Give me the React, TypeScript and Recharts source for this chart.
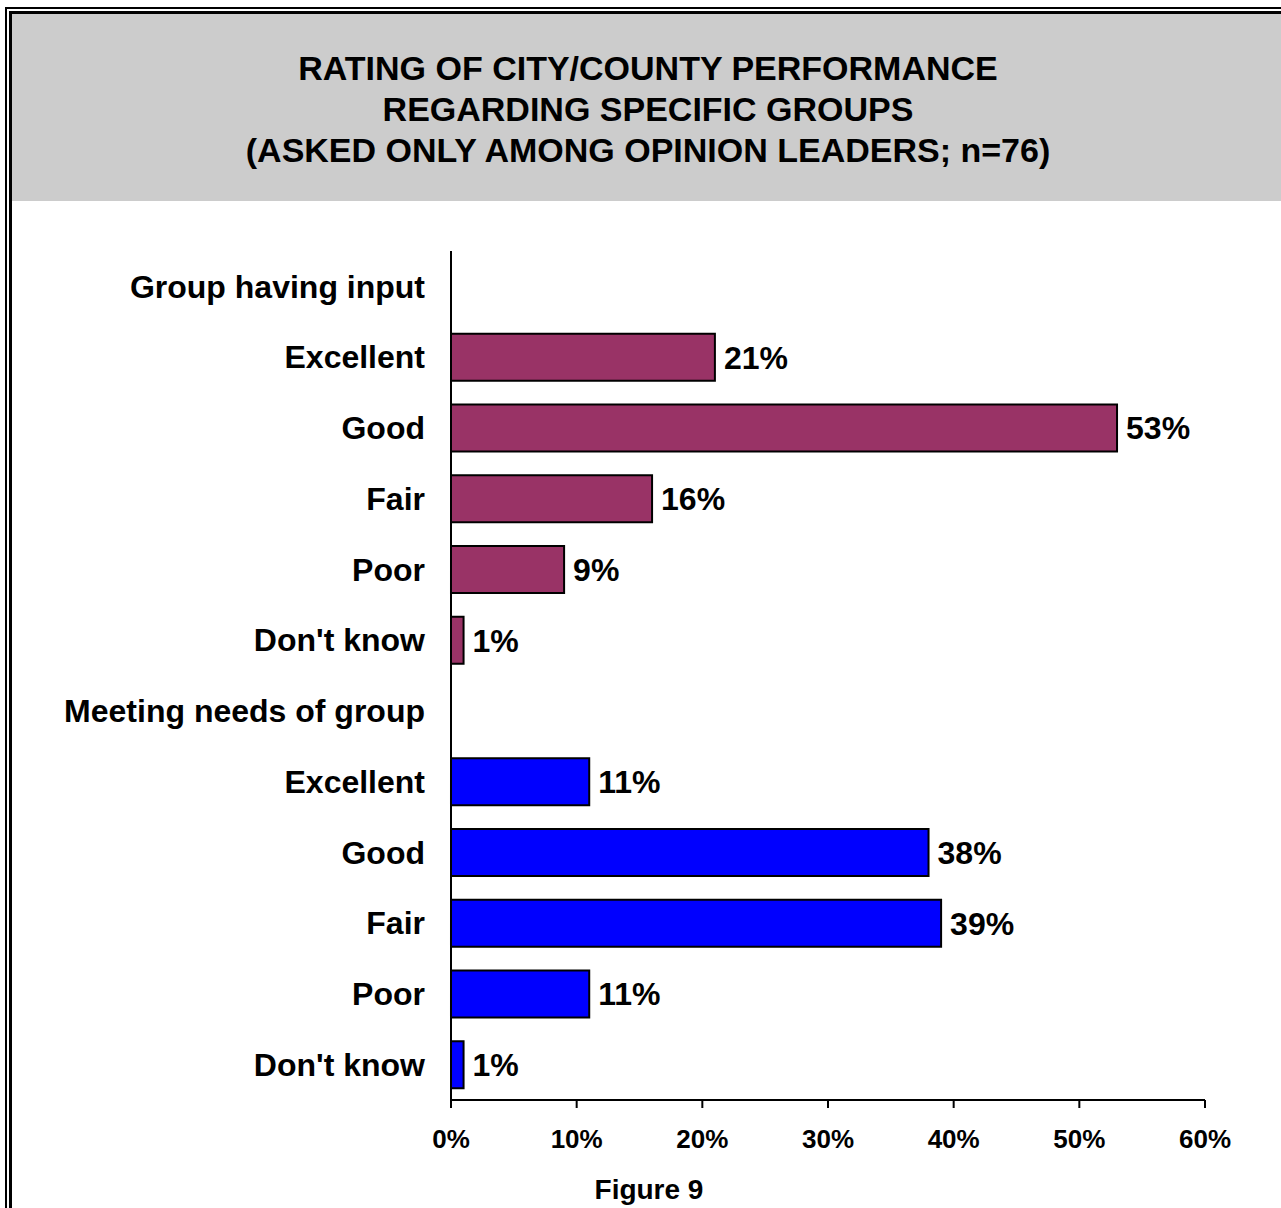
import React from "react";
import { Bar, BarChart, Cell, LabelList, XAxis, YAxis } from "recharts";

const categories = [
  "Group having input",
  "Excellent",
  "Good",
  "Fair",
  "Poor",
  "Don't know",
  "Meeting needs of group",
  "Excellent",
  "Good",
  "Fair",
  "Poor",
  "Don't know",
];
const groupHavingInput = [21, 53, 16, 9, 1];
const meetingNeeds = [11, 38, 39, 11, 1];
const xTicks = [0, 10, 20, 30, 40, 50, 60];
const titleLines = [
  "RATING OF CITY/COUNTY PERFORMANCE",
  "REGARDING SPECIFIC GROUPS",
  "(ASKED ONLY AMONG OPINION LEADERS; n=76)",
];

const MAROON = "#993366";
const BLUE = "#0000FF";
const FONT = "'Liberation Sans', Arial, sans-serif";

// header rows have no value, answer rows get their group's colour
const values: (number | null)[] = [null, ...groupHavingInput, null, ...meetingNeeds];
const data = categories.map((name, i) => ({
  id: i,
  name,
  value: values[i],
  color: i < 6 ? MAROON : BLUE,
}));

export default function App() {
  return (
    <div
      style={{
        position: "absolute",
        left: 0,
        top: 0,
        width: 1281,
        height: 1208,
        overflow: "hidden",
        background: "#fff",
        fontFamily: FONT,
      }}
    >
      {/* double frame */}
      <div style={{ position: "absolute", left: 5, top: 7, width: 1400, height: 1400, borderLeft: "2px solid #000", borderTop: "2px solid #000" }} />
      <div style={{ position: "absolute", left: 9, top: 11, width: 1400, height: 1400, borderLeft: "3px solid #000", borderTop: "3px solid #000" }} />
      <div style={{ position: "absolute", left: 12, top: 14, width: 1300, height: 187, background: "#CCCCCC" }} />

      <div style={{ position: "absolute", left: 0, top: 0 }}>
        <BarChart
          width={1281}
          height={1208}
          data={data}
          layout="vertical"
          margin={{ top: 251, right: 76, bottom: 0, left: 0 }}
          barSize={47}
        >
          <XAxis
            type="number"
            domain={[0, 60]}
            ticks={xTicks}
            tickFormatter={(v) => `${v}%`}
            axisLine={{ stroke: "#000", strokeWidth: 2 }}
            tickLine={{ stroke: "#000", strokeWidth: 2 }}
            tickSize={8}
            tickMargin={22}
            tick={{ fill: "#000", fontSize: 26, fontWeight: "bold", fontFamily: FONT }}
            height={108}
          />
          <YAxis
            type="category"
            dataKey="id"
            tickFormatter={(i) => categories[i]}
            width={451}
            axisLine={{ stroke: "#000", strokeWidth: 2 }}
            tickLine={false}
            tickSize={0}
            tickMargin={26}
            interval={0}
            tick={{ fill: "#000", fontSize: 32, fontWeight: "bold", fontFamily: FONT }}
          />
          <Bar dataKey="value" stroke="#000" strokeWidth={2} isAnimationActive={false}>
            {data.map((d) => (
              <Cell key={d.id} fill={d.color} />
            ))}
            <LabelList
              dataKey="value"
              position="right"
              offset={9}
              formatter={(v: any) => (v == null ? "" : `${v}%`)}
              style={{ fill: "#000", fontSize: 32, fontWeight: "bold", fontFamily: FONT }}
            />
          </Bar>
        </BarChart>
      </div>

      <svg width={1281} height={1208} style={{ position: "absolute", left: 0, top: 0, pointerEvents: "none" }}>
        {titleLines.map((t, i) => (
          <text
            key={i}
            x={648}
            y={80 + i * 41}
            textAnchor="middle"
            fontSize={34}
            fontWeight="bold"
            fontFamily={FONT}
            fill="#000"
          >
            {t}
          </text>
        ))}
        <text x={649} y={1199} textAnchor="middle" fontSize={28} fontWeight="bold" fontFamily={FONT} fill="#000">
          Figure 9
        </text>
      </svg>
    </div>
  );
}
